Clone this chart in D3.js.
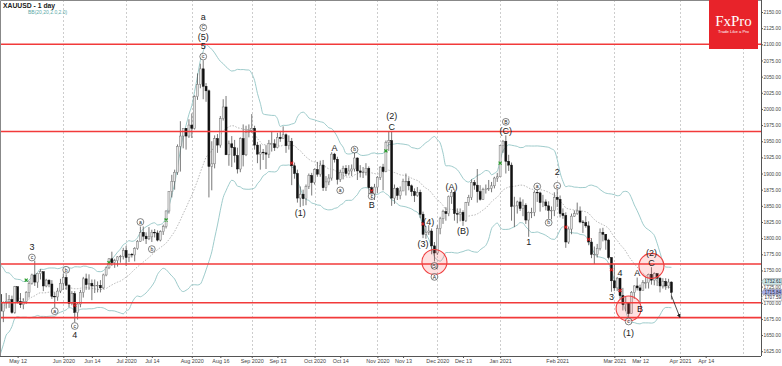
<!DOCTYPE html>
<html>
<head>
<meta charset="utf-8">
<script src="https://cdn.jsdelivr.net/npm/d3@7"></script>
<style>
  body { margin: 0; background: #fff; }
  svg { display: block; font-family: "Liberation Sans", Arial, sans-serif; }
</style>
</head>
<body>
<svg id="chart" width="782" height="366"></svg>
<script>
// ---- data: XAUUSD daily, [high, low, close]; open = previous close ----
const firstDay = "2020-04-01";
const closedDays = ["2020-04-10", "2020-12-25", "2021-01-01"];
const firstOpen = 1577;

const apr2020 = [[1604,1568,1591],[1617,1584,1613],[1626,1603,1620],[1666,1613,1663],[1672,1641,1647],[1657,1640,1646],[1690,1643,1683],
  [1714,1680,1713],[1747,1709,1727],[1730,1702,1716],[1735,1710,1718],[1718,1680,1683],[1700,1673,1694],[1697,1659,1686],[1717,1684,1714],
  [1738,1712,1730],[1737,1717,1727],[1729,1697,1713],[1718,1690,1706],[1722,1700,1713],[1718,1680,1687]];
const may2020 = [[1702,1670,1700],[1715,1691,1702],[1712,1692,1705],[1711,1683,1685],[1726,1683,1725],[1723,1699,1702],[1715,1692,1697],
  [1707,1690,1702],[1718,1698,1716],[1734,1708,1730],[1745,1728,1743],[1765,1726,1732],[1745,1723,1745],[1752,1736,1748],[1748,1718,1726],
  [1737,1724,1735],[1736,1724,1729],[1735,1706,1710],[1716,1693,1709],[1723,1703,1718],[1737,1715,1730]];
const jun2020 = [[1745,1720,1739],[1744,1720,1727],[1729,1693,1699],[1718,1696,1714],[1718,1670,1685],[1701,1674,1698],[1720,1693,1716],
  [1740,1708,1737],[1745,1720,1728],[1744,1720,1730],[1736,1704,1726],[1736,1715,1727],[1733,1716,1727],[1735,1716,1723],[1745,1721,1743],
  [1756,1741,1754],[1769,1752,1768],[1779,1757,1762],[1768,1754,1765],[1772,1756,1771],[1774,1762,1772],[1785,1767,1781]];
const jul2020 = [[1788,1757,1770],[1776,1763,1775],[1777,1770,1774],[1786,1764,1784],[1797,1782,1795],[1818,1794,1809],[1818,1796,1803],
  [1809,1791,1799],[1817,1797,1802],[1813,1794,1809],[1814,1801,1808],[1812,1795,1797],[1812,1795,1810],[1821,1805,1818],[1843,1815,1842],
  [1872,1838,1872],[1898,1863,1888],[1906,1875,1902],[1945,1898,1942],[1981,1903,1958],[1970,1939,1970],[1970,1937,1958],[1984,1955,1975]];
const aug2020 = [[1993,1955,1970],[2021,1968,2019],[2055,2014,2038],[2070,2032,2062],[2075,2015,2035],[2040,2011,2028],[2030,1863,1911],
  [1950,1874,1915],[1959,1908,1954],[1961,1932,1944],[1989,1940,1985],[2015,1982,2003],[2020,1930,1929],[1951,1912,1946],[1958,1910,1940],
  [1952,1917,1928],[1940,1900,1907],[1956,1902,1954],[1976,1911,1929],[1974,1927,1964],[1976,1956,1967]];
const sep2020 = [[1992,1963,1970],[1974,1937,1944],[1949,1916,1930],[1945,1906,1933],[1938,1921,1932],[1944,1907,1930],[1952,1924,1946],
  [1965,1934,1946],[1953,1935,1940],[1963,1939,1956],[1966,1949,1954],[1973,1954,1960],[1962,1932,1943],[1959,1937,1950],[1955,1882,1912],
  [1917,1892,1900],[1906,1855,1862],[1880,1848,1868],[1875,1850,1861],[1883,1851,1880],[1900,1876,1897],[1901,1866,1886]];
const oct2020 = [[1908,1883,1906],[1918,1895,1899],[1920,1895,1913],[1921,1873,1878],[1896,1873,1887],[1899,1882,1893],[1933,1889,1930],
  [1932,1917,1922],[1926,1883,1891],[1906,1887,1902],[1912,1891,1908],[1913,1896,1900],[1913,1897,1904],[1914,1896,1907],[1932,1903,1924],
  [1925,1890,1904],[1913,1894,1902],[1910,1893,1902],[1916,1897,1908],[1911,1868,1878],[1880,1860,1868],[1884,1859,1879]];
const nov2020 = [[1896,1870,1894],[1911,1890,1910],[1915,1874,1903],[1951,1902,1948],[1965,1935,1951],[1965,1850,1862],[1883,1853,1877],
  [1879,1859,1866],[1880,1860,1873],[1892,1873,1888],[1900,1866,1888],[1894,1874,1881],[1883,1865,1872],[1877,1856,1866],[1879,1864,1871],
  [1875,1831,1837],[1841,1800,1806],[1818,1799,1809],[1820,1805,1811],[1815,1775,1788],[1794,1764,1777]];
const dec2020 = [[1820,1774,1815],[1833,1806,1830],[1844,1822,1841],[1848,1827,1838],[1866,1834,1864],[1875,1853,1871],[1874,1827,1838],
  [1846,1823,1837],[1846,1826,1840],[1843,1819,1827],[1856,1825,1855],[1867,1850,1863],[1891,1859,1886],[1890,1875,1882],[1907,1855,1872],
  [1882,1858,1860],[1878,1859,1875],[1883,1869,1876],[1890,1873,1877],[1887,1871,1881],[1895,1877,1893],[1901,1887,1895]];
const jan2021 = [[1944,1896,1943],[1952,1932,1950],[1959,1900,1919],[1929,1904,1913],[1917,1827,1849],[1864,1817,1850],[1858,1838,1856],
  [1863,1842,1846],[1860,1834,1851],[1854,1822,1828],[1841,1802,1840],[1847,1831,1840],[1874,1834,1871],[1875,1856,1870],[1872,1841,1855],
  [1867,1848,1856],[1860,1843,1850],[1857,1830,1843],[1849,1829,1843],[1871,1834,1863]];
const feb2021 = [[1875,1848,1860],[1866,1832,1838],[1846,1830,1835],[1840,1785,1794],[1818,1791,1814],[1838,1806,1834],[1843,1833,1838],
  [1855,1836,1842],[1849,1823,1825],[1828,1808,1824],[1834,1816,1819],[1826,1789,1794],[1800,1769,1775],[1787,1760,1775],[1791,1770,1784],
  [1815,1781,1809],[1816,1795,1806],[1806,1782,1797],[1799,1767,1770],[1770,1717,1734]];
const mar2021 = [[1760,1718,1723],[1740,1718,1738],[1738,1706,1711],[1723,1688,1697],[1709,1687,1700],[1701,1677,1683],[1718,1683,1716],
  [1727,1706,1726],[1739,1719,1723],[1728,1699,1719],[1735,1719,1731],[1740,1722,1731],[1745,1722,1744],[1755,1728,1735],[1747,1727,1745],
  [1745,1726,1738],[1740,1716,1726],[1738,1722,1733],[1738,1720,1726],[1737,1722,1732],[1733,1705,1716]];

// horizontal support / resistance levels
const levels = [2100, 1965, 1760, 1700, 1677];

// wave labels: [text, date, price, circled]
const waves = [
  ["3","2020-05-15",1786,0],["c","2020-05-15",1770,1],["a","2020-05-27",1687,1],["b","2020-06-02",1751,1],
  ["c","2020-06-05",1664,1],["4","2020-06-05",1650,0],["a","2020-07-08",1825,1],["b","2020-07-14",1783,1],
  ["a","2020-08-07",2143,0],["C","2020-08-07",2126,1],["(5)","2020-08-07",2112,0],["5","2020-08-07",2097,0],["c","2020-08-07",2081,1],
  ["(1)","2020-09-24",1840,0],["A","2020-10-12",1940,0],["a","2020-10-14",1874,1],["b","2020-10-21",1937,1],
  ["c","2020-10-29",1865,1],["B","2020-10-29",1852,0],["(2)","2020-11-09",1989,0],["C","2020-11-09",1973,0],
  ["(4)","2020-11-26",1826,0],["(3)","2020-11-24",1791,0],["(5)","2020-11-30",1757,1],["A","2020-11-30",1740,1],
  ["(A)","2020-12-08",1880,0],["(B)","2020-12-14",1812,0],["B","2021-01-06",1980,1],["(C)","2021-01-06",1966,0],
  ["1","2021-01-18",1795,0],["a","2021-01-21",1880,1],["b","2021-01-27",1824,1],["2","2021-02-01",1902,0],["c","2021-02-01",1881,1],
  ["3","2021-02-26",1710,0],["4","2021-03-03",1747,0],["A","2021-03-11",1747,0],["c","2021-03-08",1671,1],["B","2021-03-12",1690,0],
  ["(1)","2021-03-08",1654,0],["(2)","2021-03-18",1778,0],["C","2021-03-18",1762,0]
];
// highlighted zones: [date, price]
const zones = [["2020-11-30",1763],["2021-03-08",1691],["2021-03-18",1757]];
// small signal marks: [date, price, up]
const marks = [["2020-05-13",1735,1],["2020-06-23",1762,1],["2020-07-21",1828,1],["2020-11-05",1935,1],["2021-01-04",1916,1],
  ["2020-06-05",1696,0],["2020-09-21",1916,0],["2020-10-29",1873,0],["2020-11-24",1822,0],["2021-02-04",1817,0],
  ["2021-02-16",1798,0],["2021-02-26",1751,0],["2021-03-03",1719,0]];
// projected move
const arrowFrom = ["2021-03-29", 1711], arrowTo = ["2021-04-01", 1677];

const priceTags = [1732.61, 1715.84, 1707.59];
const tickLabels = ["May 12","Jun 2020","Jun 14","Jul 2020","Jul 14","Aug 2020","Aug 16","Sep 2020","Sep 13","Oct 2020","Oct 14",
  "Nov 2020","Nov 13","Dec 2020","Dec 13","Jan 2021","Feb 2021","Mar 2021","Mar 12","Apr 2021","Apr 14"];
const tickDates = ["2020-05-08","2020-06-01","2020-06-15","2020-07-01","2020-07-14","2020-08-03","2020-08-17","2020-09-01","2020-09-14",
  "2020-10-01","2020-10-14","2020-11-02","2020-11-13","2020-12-01","2020-12-14","2021-01-04","2021-02-01","2021-03-01","2021-03-12",
  "2021-04-01","2021-04-14"];
const gridDates = ["2020-06-01","2020-07-01","2020-08-03","2020-09-01","2020-10-01","2020-11-02","2020-12-01","2021-01-04",
  "2021-02-01","2021-03-01","2021-04-01","2021-05-03"];

// ---- build ----
const fmt = d3.timeFormat("%Y-%m-%d"), parse = d3.timeParse("%Y-%m-%d");
const days = d3.timeDay.range(parse(firstDay), parse("2021-06-01"))
  .filter(d => d.getDay() % 6 !== 0 && !closedDays.includes(fmt(d)))
  .map(fmt);
const idx = s => days.indexOf(s);

let prev = firstOpen;
const bars = [apr2020, may2020, jun2020, jul2020, aug2020, sep2020, oct2020, nov2020, dec2020, jan2021, feb2021, mar2021]
  .flat().map((r, i) => {
    const b = { i, o: prev, h: r[0], l: r[1], c: r[2] };
    prev = r[2];
    return b;
  });

const W = 761, H = 356;
const x = d3.scaleLinear().domain([idx("2020-04-30"), idx("2021-05-03")]).range([0.5, 742.8]);
const y = d3.scaleLinear().domain([1625, 2150]).range([351.2, 12]);

const svg = d3.select("#chart");
svg.append("defs").append("clipPath").attr("id", "plot")
  .append("rect").attr("width", W).attr("height", H);
const plot = svg.append("g").attr("clip-path", "url(#plot)");

// month grid
plot.selectAll("line.grid").data(gridDates).join("line")
  .attr("x1", d => Math.round(x(idx(d))) + 0.5).attr("x2", d => Math.round(x(idx(d))) + 0.5)
  .attr("y1", 0).attr("y2", H)
  .attr("stroke", "#b8b8b8").attr("stroke-width", 0.7).attr("stroke-dasharray", "2,2");

// bollinger bands (20, 2)
const bb = bars.slice(19).map(b => {
  const w = bars.slice(b.i - 19, b.i + 1).map(d => d.c);
  const m = d3.mean(w), sd = Math.sqrt(d3.mean(w, v => (v - m) * (v - m)));
  return { i: b.i, m, up: m + 2 * sd, dn: m - 2 * sd };
});
const bandLine = k => d3.line().x(d => x(d.i)).y(d => y(d[k])).curve(d3.curveMonotoneX);
["up", "dn"].forEach(k => plot.append("path").datum(bb).attr("d", bandLine(k))
  .attr("fill", "none").attr("stroke", "#93c5c5").attr("stroke-width", 0.9));
plot.append("path").datum(bb).attr("d", bandLine("m"))
  .attr("fill", "none").attr("stroke", "#9a9a9a").attr("stroke-width", 0.7).attr("stroke-dasharray", "1.5,1.5");

// candles
const candle = plot.selectAll("g.bar").data(bars).join("g").attr("class", "bar");
candle.append("line")
  .attr("x1", d => x(d.i)).attr("x2", d => x(d.i))
  .attr("y1", d => y(d.h)).attr("y2", d => y(d.l))
  .attr("stroke", "#555").attr("stroke-width", 0.8);
candle.append("rect")
  .attr("x", d => x(d.i) - 1).attr("width", 2)
  .attr("y", d => y(Math.max(d.o, d.c)))
  .attr("height", d => Math.max(0.6, Math.abs(y(d.o) - y(d.c))))
  .attr("fill", d => d.c >= d.o ? "#e6e6e6" : "#111")
  .attr("stroke", d => d.c >= d.o ? "#777" : "#111").attr("stroke-width", 0.5);

// signal marks
plot.selectAll("path.mark").data(marks).join("path")
  .attr("transform", d => `translate(${x(idx(d[0]))},${y(d[1])})`)
  .attr("d", "M-1.5,-1.5L1.5,1.5M-1.5,1.5L1.5,-1.5")
  .attr("stroke", d => d[2] ? "#2a9d2a" : "#d02020").attr("stroke-width", 1.2);

// levels
plot.selectAll("line.level").data(levels).join("line")
  .attr("x1", 0).attr("x2", W).attr("y1", d => y(d)).attr("y2", d => y(d))
  .attr("stroke", "#f23a3a").attr("stroke-width", 1.6);

// zones
plot.selectAll("circle.zone").data(zones).join("circle")
  .attr("cx", d => x(idx(d[0]))).attr("cy", d => y(d[1])).attr("r", 12.5)
  .attr("fill", "rgba(255,70,70,0.16)").attr("stroke", "#ef4040").attr("stroke-width", 1.1);

// wave labels
const wl = plot.selectAll("g.wave").data(waves).join("g")
  .attr("transform", d => `translate(${x(idx(d[1]))},${y(d[2])})`);
wl.filter(d => d[3]).append("circle").attr("r", 3.4)
  .attr("fill", "#fff").attr("fill-opacity", 0.6).attr("stroke", "#333").attr("stroke-width", 0.6);
wl.append("text").text(d => d[0])
  .attr("text-anchor", "middle").attr("dy", "0.36em")
  .attr("font-size", d => d[3] ? 5 : 9).attr("fill", "#222");

// arrow
svg.append("defs").append("marker").attr("id", "head")
  .attr("viewBox", "0 0 10 10").attr("refX", 9).attr("refY", 5)
  .attr("markerWidth", 5).attr("markerHeight", 5).attr("orient", "auto")
  .append("path").attr("d", "M0,0L10,5L0,10Z").attr("fill", "#222");
plot.append("line")
  .attr("x1", x(idx(arrowFrom[0]))).attr("y1", y(arrowFrom[1]))
  .attr("x2", x(idx(arrowTo[0]))).attr("y2", y(arrowTo[1]))
  .attr("stroke", "#222").attr("stroke-width", 0.8).attr("marker-end", "url(#head)");

// frame
svg.append("path").attr("d", `M0.5,${H}V0.5H${W}`).attr("fill", "none").attr("stroke", "#888").attr("stroke-width", 1);

// price axis
const ya = svg.append("g").attr("transform", `translate(${W},0)`)
  .call(d3.axisRight(y).tickValues(d3.range(1625, 2151, 25)).tickFormat(d3.format(".2f")).tickSize(2).tickPadding(0.6));
ya.select(".domain").attr("stroke", "#555").attr("d", `M0.5,0V${H}`);
ya.selectAll(".tick line").attr("stroke", "#555");
ya.selectAll("text").attr("font-size", 4.8).attr("fill", "#444");

// current price tags
const tagFill = ["#c9e6e6", "#a9b0ea", "#fff"];
const tag = svg.selectAll("g.tag").data(priceTags).join("g")
  .attr("transform", d => `translate(${W + 0.5},${y(d)})`);
tag.append("path").attr("d", "M0,0L2.5,-3.2H20.3V3.2H2.5Z")
  .attr("fill", (d, i) => tagFill[i]).attr("stroke", "#888").attr("stroke-width", 0.5);
tag.append("text").text(d => d.toFixed(2)).attr("x", 3).attr("dy", "0.35em")
  .attr("font-size", 4.6).attr("fill", "#223");

// time axis
const xa = svg.append("g").attr("transform", `translate(0,${H})`)
  .call(d3.axisBottom(x).tickValues(tickDates.map(idx)).tickFormat((d, i) => tickLabels[i]).tickSize(2).tickPadding(1));
xa.select(".domain").attr("stroke", "#555").attr("d", `M0,0.5H${W}`);
xa.selectAll(".tick line").attr("stroke", "#555");
xa.selectAll("text").attr("font-size", 5.4).attr("fill", "#444");

// titles
svg.append("text").text("XAUUSD - 1 day").attr("x", 3).attr("y", 8)
  .attr("font-size", 6.8).attr("font-weight", "bold").attr("fill", "#222");
svg.append("text").text("BB(20,20,2.0,2.0)").attr("x", 28).attr("y", 14)
  .attr("font-size", 5).attr("fill", "#5aa7a7");

// logo
const logo = svg.append("g").attr("transform", "translate(709,0)");
logo.append("rect").attr("width", 49).attr("height", 49).attr("fill", "#e8232a");
logo.append("text").text("FxPro").attr("x", 24.5).attr("y", 26)
  .attr("text-anchor", "middle").attr("fill", "#fff").attr("font-size", 15)
  .attr("font-family", "Liberation Serif, DejaVu Serif, serif");
logo.append("text").text("Trade Like a Pro").attr("x", 24.5).attr("y", 33)
  .attr("text-anchor", "middle").attr("fill", "#fff").attr("font-size", 4.2);
</script>
</body>
</html>
